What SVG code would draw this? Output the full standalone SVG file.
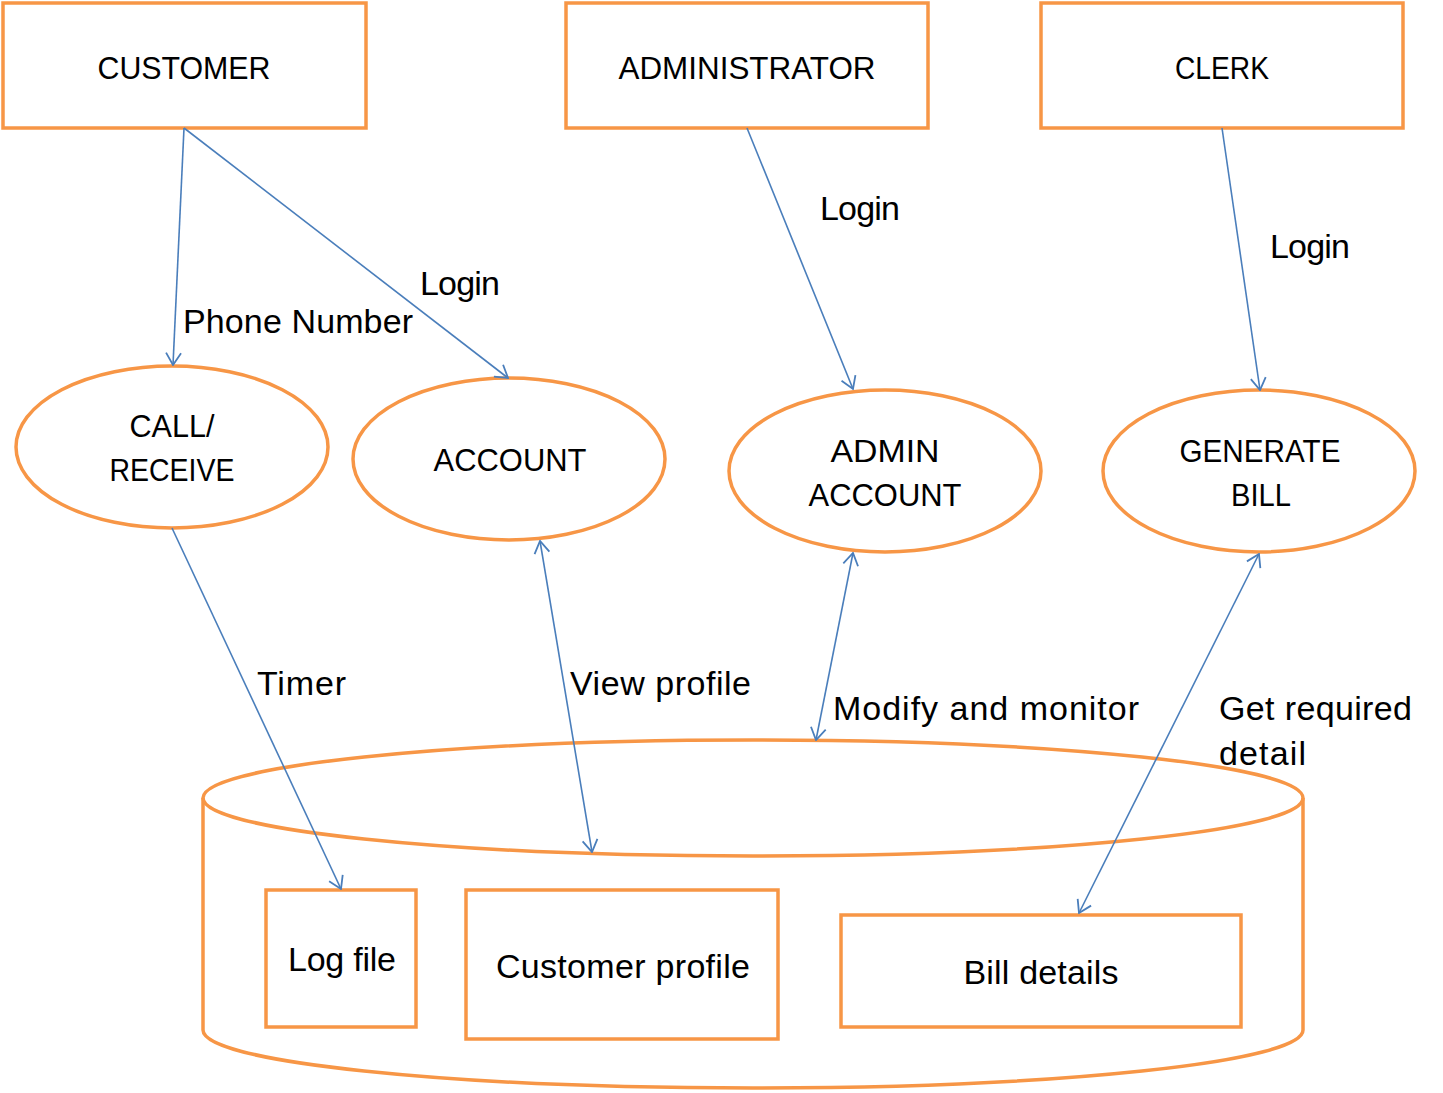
<svg xmlns="http://www.w3.org/2000/svg" width="1443" height="1093" viewBox="0 0 1443 1093">
<style>
.box{fill:#fff;stroke:#F79646;stroke-width:3.5}
.cyl{fill:none;stroke:#F79646;stroke-width:3.5}
.t{font-family:"Liberation Sans",Arial,sans-serif;font-size:31px;fill:#000}
.m{font-size:34px}
.c{text-anchor:middle}
.ln{stroke:#4A7EBB;stroke-width:1.6;fill:none}
</style>
<defs>
<marker id="a" viewBox="0 0 14 18" refX="13" refY="9" markerWidth="14" markerHeight="18" markerUnits="userSpaceOnUse" orient="auto-start-reverse">
<path d="M1,1.5 L13,9 L1,16.5" fill="none" stroke="#4A7EBB" stroke-width="1.8"/>
</marker>
</defs>
<g id="database">
<path class="cyl" d="M203,798 L203,1030 A550,58 0 0 0 1303,1030 L1303,798"/>
<ellipse class="cyl" cx="753" cy="798" rx="550" ry="58"/>
</g>
<g id="customer"><rect class="box" x="3" y="3" width="363" height="125"/><text class="t c" x="184" y="79" textLength="173" lengthAdjust="spacingAndGlyphs">CUSTOMER</text></g>
<g id="administrator"><rect class="box" x="566" y="3" width="362" height="125"/><text class="t c" x="747" y="79" textLength="257" lengthAdjust="spacingAndGlyphs">ADMINISTRATOR</text></g>
<g id="clerk"><rect class="box" x="1041" y="3" width="362" height="125"/><text class="t c" x="1222" y="79" textLength="94" lengthAdjust="spacingAndGlyphs">CLERK</text></g>
<g id="call"><ellipse class="box" cx="172" cy="447" rx="156" ry="81"/><text class="t c" x="172" y="437" textLength="85" lengthAdjust="spacingAndGlyphs">CALL/</text><text class="t c" x="172" y="481" textLength="125" lengthAdjust="spacingAndGlyphs">RECEIVE</text></g>
<g id="account"><ellipse class="box" cx="509" cy="459" rx="156" ry="81"/><text class="t c" x="510" y="471" textLength="153" lengthAdjust="spacingAndGlyphs">ACCOUNT</text></g>
<g id="adminaccount"><ellipse class="box" cx="885" cy="471" rx="156" ry="81"/><text class="t c" x="885" y="462" textLength="109" lengthAdjust="spacingAndGlyphs">ADMIN</text><text class="t c" x="885" y="506" textLength="153" lengthAdjust="spacingAndGlyphs">ACCOUNT</text></g>
<g id="generatebill"><ellipse class="box" cx="1259" cy="471" rx="156" ry="81"/><text class="t c" x="1260" y="462" textLength="161" lengthAdjust="spacingAndGlyphs">GENERATE</text><text class="t c" x="1261" y="506" textLength="60" lengthAdjust="spacingAndGlyphs">BILL</text></g>
<g id="logfile"><rect class="box" x="266" y="890" width="150" height="137"/><text class="t m c" x="342" y="971" textLength="108">Log file</text></g>
<g id="customerprofile"><rect class="box" x="466" y="890" width="312" height="149"/><text class="t m c" x="623" y="978" textLength="254">Customer profile</text></g>
<g id="billdetails"><rect class="box" x="841" y="915" width="400" height="112"/><text class="t m c" x="1041" y="984" textLength="155">Bill details</text></g>
<g id="connectors">
<line class="ln" x1="184" y1="128" x2="173" y2="365" marker-end="url(#a)"/>
<line class="ln" x1="184" y1="128" x2="508" y2="378" marker-end="url(#a)"/>
<line class="ln" x1="747" y1="128" x2="853" y2="389" marker-end="url(#a)"/>
<line class="ln" x1="1222" y1="128" x2="1260" y2="390" marker-end="url(#a)"/>
<line class="ln" x1="172" y1="528" x2="341" y2="889" marker-end="url(#a)"/>
<line class="ln" x1="540" y1="541" x2="592" y2="852" marker-start="url(#a)" marker-end="url(#a)"/>
<line class="ln" x1="853" y1="553" x2="816" y2="740" marker-start="url(#a)" marker-end="url(#a)"/>
<line class="ln" x1="1259" y1="554" x2="1079" y2="913" marker-start="url(#a)" marker-end="url(#a)"/>
</g>
<g id="labels">
<text class="t m" x="183" y="333" textLength="230">Phone Number</text>
<text class="t m" x="420" y="295" textLength="80">Login</text>
<text class="t m" x="820" y="220" textLength="80">Login</text>
<text class="t m" x="1270" y="258" textLength="80">Login</text>
<text class="t m" x="257" y="695" textLength="89">Timer</text>
<text class="t m" x="570" y="695" textLength="181">View profile</text>
<text class="t m" x="833" y="720" textLength="306">Modify and monitor</text>
<text class="t m" x="1219" y="720" textLength="193">Get required</text>
<text class="t m" x="1219" y="765" textLength="87">detail</text>
</g>
</svg>
